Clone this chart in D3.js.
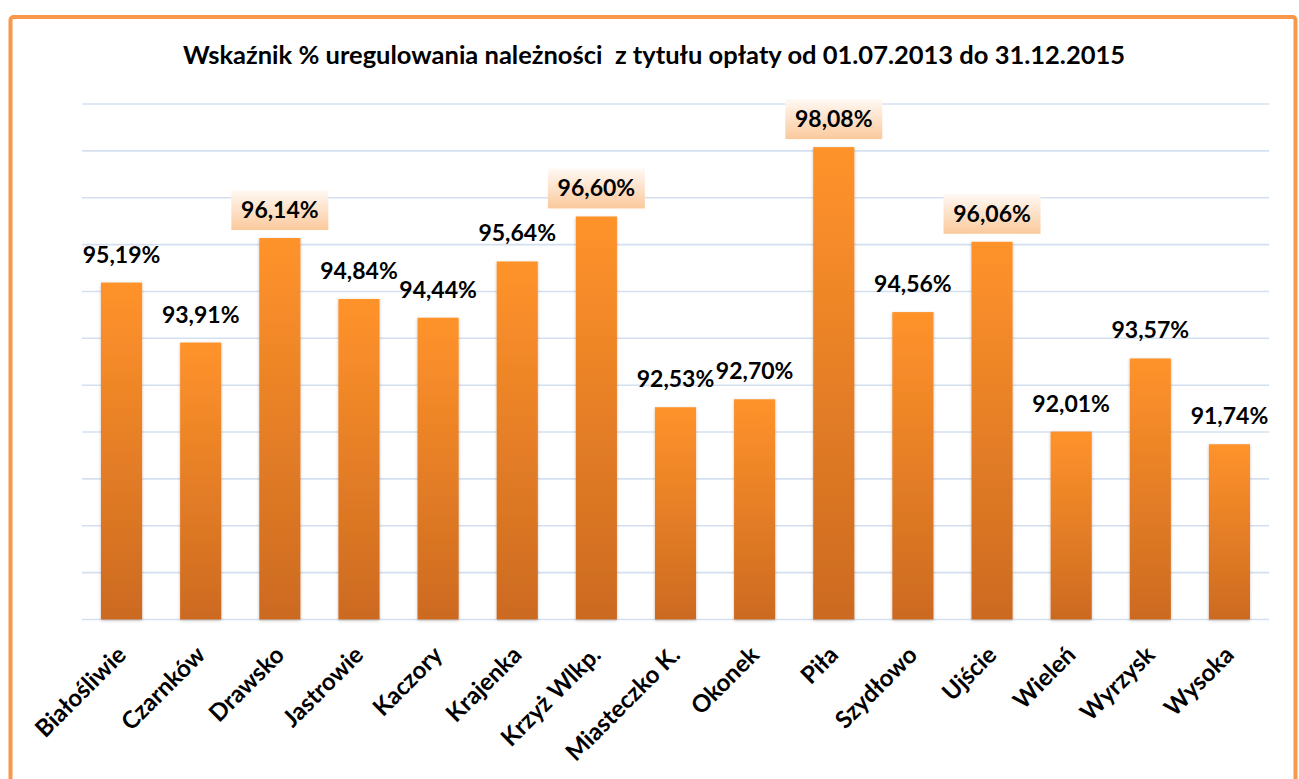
<!DOCTYPE html>
<html>
<head>
<meta charset="utf-8">
<script src="https://cdn.jsdelivr.net/npm/d3@7"></script>
<style>
  html, body { margin: 0; padding: 0; background: #fff; }
  svg { display: block; }
  text { font-family: Lato, 'Open Sans', sans-serif; font-weight: bold; fill: #000; }
</style>
</head>
<body>
<div id="chart"></div>
<script>
'use strict';

const title = 'Wskaźnik % uregulowania należności  z tytułu opłaty od 01.07.2013 do 31.12.2015';
const categories = ['Białośliwie', 'Czarnków', 'Drawsko', 'Jastrowie', 'Kaczory', 'Krajenka',
  'Krzyż Wlkp.', 'Miasteczko K.', 'Okonek', 'Piła', 'Szydłowo', 'Ujście', 'Wieleń', 'Wyrzysk', 'Wysoka'];
const values = [95.19, 93.91, 96.14, 94.84, 94.44, 95.64, 96.60, 92.53, 92.70, 98.08, 94.56, 96.06, 92.01, 93.57, 91.74];
const highlighted = ['Drawsko', 'Krzyż Wlkp.', 'Piła', 'Ujście'];
const yTicks = [88, 89, 90, 91, 92, 93, 94, 95, 96, 97, 98, 99];

const width = 1299;
const height = 779;
const margin = {top: 104, right: 30, bottom: 159, left: 82};
const plotWidth = 1187;

let svg = d3.select('#chart')
  .append('svg')
  .attr('width', width)
  .attr('height', height);

let defs = svg.append('defs');

let barGrad = defs.append('linearGradient')
  .attr('id', 'barGrad')
  .attr('x1', 0).attr('y1', 0).attr('x2', 0).attr('y2', 1);
barGrad.append('stop').attr('offset', '0%').attr('stop-color', '#ff932b');
barGrad.append('stop').attr('offset', '100%').attr('stop-color', '#cc6a21');

let boxGrad = defs.append('linearGradient')
  .attr('id', 'boxGrad')
  .attr('x1', 0).attr('y1', 0).attr('x2', 0).attr('y2', 1);
boxGrad.append('stop').attr('offset', '0%').attr('stop-color', '#fff9f4');
boxGrad.append('stop').attr('offset', '100%').attr('stop-color', '#fbc99c');

let shadow = defs.append('filter')
  .attr('id', 'shadow')
  .attr('x', '-20%').attr('y', '-5%').attr('width', '140%').attr('height', '110%');
shadow.append('feDropShadow')
  .attr('dx', 0).attr('dy', 1)
  .attr('stdDeviation', 1.5)
  .attr('flood-color', '#000')
  .attr('flood-opacity', 0.25);

// outer frame
svg.append('rect')
  .attr('x', 10.5)
  .attr('y', 17)
  .attr('width', 1285)
  .attr('height', 800)
  .attr('rx', 3)
  .attr('fill', '#fff')
  .attr('stroke', '#f9974a')
  .attr('stroke-width', 4);

svg.append('text')
  .attr('x', 654)
  .attr('y', 64)
  .attr('text-anchor', 'middle')
  .attr('font-size', '25.5px')
  .style('white-space', 'pre')
  .text(title);

let x = d3.scaleBand()
  .domain(categories)
  .range([margin.left, margin.left + plotWidth])
  .paddingInner(0.48)
  .paddingOuter(0.24);

let y = d3.scaleLinear()
  .domain([88, 99])
  .range([height - margin.bottom - 0.5, margin.top]);

// gridlines
svg.append('g')
  .selectAll('line')
  .data(yTicks)
  .join('line')
  .attr('x1', margin.left)
  .attr('x2', margin.left + plotWidth)
  .attr('y1', d => y(d))
  .attr('y2', d => y(d))
  .attr('stroke', '#d4e0f0')
  .attr('stroke-width', 1.6);

// bars
svg.append('g')
  .selectAll('rect')
  .data(values)
  .join('rect')
  .attr('x', (d, i) => x(categories[i]))
  .attr('y', d => y(d))
  .attr('width', x.bandwidth())
  .attr('height', d => y(88) - y(d))
  .attr('fill', 'url(#barGrad)')
  .attr('filter', 'url(#shadow)');

// value labels
let labels = svg.append('g')
  .selectAll('g')
  .data(values)
  .join('g')
  .attr('transform', (d, i) =>
    'translate(' + (x(categories[i]) + x.bandwidth() / 2) + ',' + (y(d) - 20) + ')');

labels.filter((d, i) => highlighted.includes(categories[i]))
  .append('rect')
  .attr('x', -48.5)
  .attr('y', -28)
  .attr('width', 97)
  .attr('height', 40)
  .attr('fill', 'url(#boxGrad)');

labels.append('text')
  .attr('text-anchor', 'middle')
  .attr('font-size', '23px')
  .text(d => d.toFixed(2).replace('.', ',') + '%');

// category labels
svg.append('g')
  .selectAll('text')
  .data(categories)
  .join('text')
  .attr('transform', d =>
    'translate(' + (x(d) + x.bandwidth() / 2) + ',' + (y(88) + 31) + ') rotate(-45)')
  .attr('text-anchor', 'end')
  .attr('dy', '0.35em')
  .attr('font-size', '24px')
  .text(d => d);
</script>
</body>
</html>
